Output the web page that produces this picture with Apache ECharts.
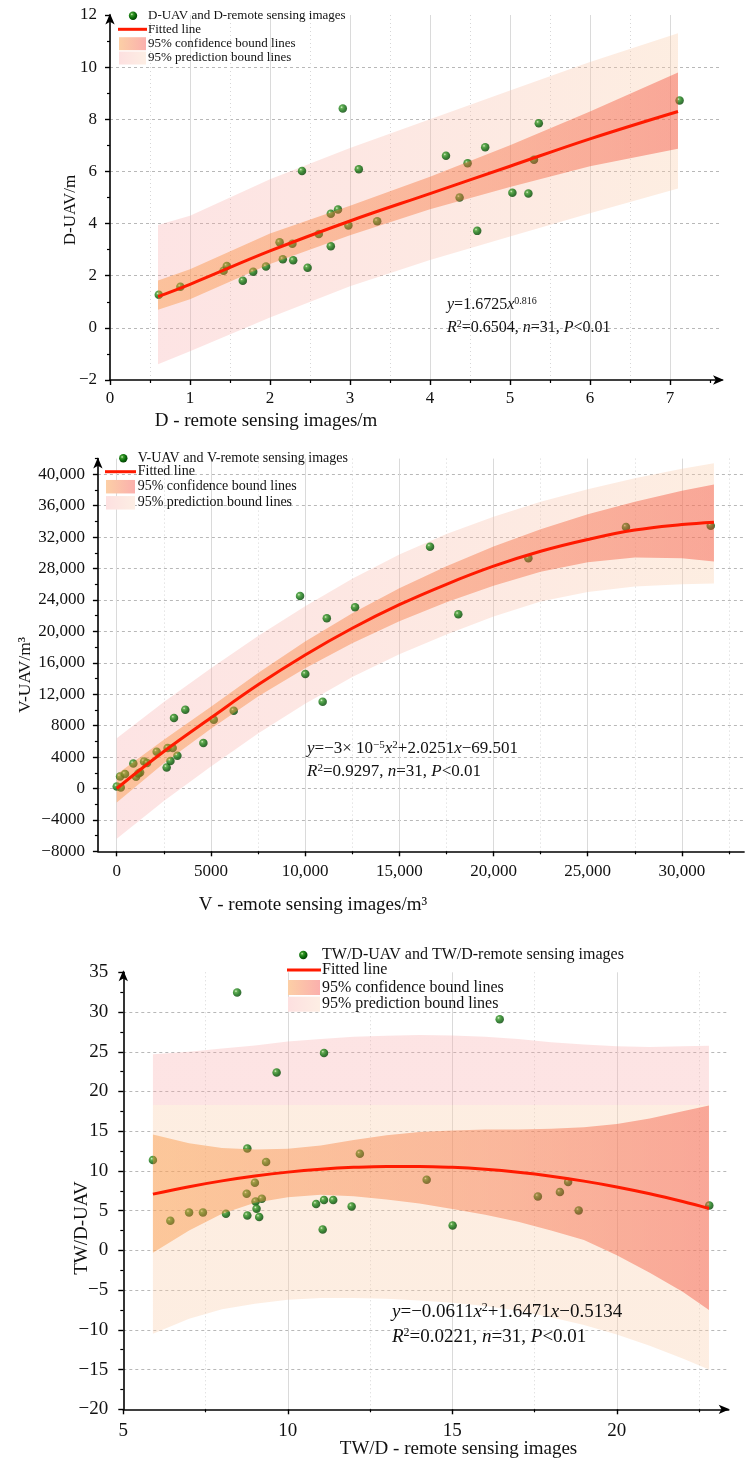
<!DOCTYPE html>
<html>
<head>
<meta charset="utf-8">
<title>UAV vs remote sensing</title>
<style>
  html, body { margin: 0; padding: 0; background: #fff; }
  #chart { width: 745px; height: 1463px; }
</style>
<script src="https://cdn.jsdelivr.net/npm/echarts@6.0.0/dist/echarts.min.js"></script>
</head>
<body>
<div id="chart"></div>
<script>
// ---------- panel 1: D ----------
const dRsX = [0.61, 0.88, 1.42, 1.46, 1.66, 1.79, 1.95, 2.12, 2.16, 2.28, 2.29, 2.47, 2.61, 2.76, 2.76, 2.85,
  2.98, 3.34, 2.40, 2.91, 3.11, 4.20, 4.47, 4.69, 5.36, 5.30, 7.12, 4.37, 5.03, 5.23, 4.59];
const dUavY = [1.27, 1.58, 2.19, 2.37, 1.81, 2.15, 2.35, 3.28, 2.63, 3.23, 2.59, 2.31, 3.60, 3.13, 4.38, 4.54,
  3.93, 4.09, 6.02, 8.41, 6.08, 6.60, 6.31, 6.93, 7.85, 6.45, 8.72, 5.00, 5.18, 5.15, 3.72];
const dCurveX = [0.6, 1, 2, 3, 4, 5, 6, 7.1];
const dFit = [1.2, 1.67, 2.95, 4.1, 5.15, 6.2, 7.25, 8.3];
const dConfHi = [1.82, 2.25, 3.62, 4.68, 5.8, 7.0, 8.3, 9.79];
const dConfLo = [0.69, 1.1, 2.45, 3.55, 4.55, 5.4, 6.2, 6.87];
const dPredHi = [3.95, 4.3, 5.7, 6.9, 8.0, 9.1, 10.2, 11.3];
const dPredLo = [-1.4, -0.9, 0.4, 1.6, 2.6, 3.5, 4.4, 5.35];
const dXTicks = [0, 1, 2, 3, 4, 5, 6, 7];
const dXMinor = [0.5, 1.5, 2.5, 3.5, 4.5, 5.5, 6.5, 7.5];
const dYTicks = [-2, 0, 2, 4, 6, 8, 10, 12];
const dYMinor = [-1, 1, 3, 5, 7, 9, 11];

// ---------- panel 2: V ----------
const vRsX = [0, 212, 175, 440, 880, 1025, 1240, 1450, 1610, 2120, 2650, 2700, 2850, 2970, 3040, 3220,
  3640, 4600, 5150, 6210, 10010, 10930, 9730, 11150, 12650, 16630, 18130, 21850, 27030, 31530, 1150];
const vUavY = [255, 127, 1530, 1830, 3180, 1490, 2040, 3440, 3230, 4680, 2680, 5140, 3490, 5140, 8970, 4170,
  10030, 5780, 8750, 9900, 14570, 11050, 24500, 21660, 23060, 30790, 22170, 29300, 33300, 33460, 1900];
const vCurveX = [0, 2500, 5000, 7500, 10000, 12500, 15000, 17500, 20000, 22500, 25000, 27500, 30000, 31700];
const vFit = [0, 4700, 9000, 13200, 17000, 20400, 23400, 26000, 28300, 30200, 31700, 32900, 33600, 33900];
const vConfHi = [1800, 6200, 10400, 14700, 18700, 22300, 25500, 28300, 30800, 33000, 34900, 36500, 37900, 38700];
const vConfLo = [-1800, 3200, 7600, 11700, 15300, 18500, 21300, 23700, 25800, 27600, 28800, 29400, 29300, 28900];
const vPredHi = [6400, 11000, 15300, 19400, 23200, 26700, 29800, 32400, 34600, 36500, 38100, 39500, 40700, 41400];
const vPredLo = [-6400, -1600, 2800, 7000, 10800, 14200, 17100, 19600, 21900, 23800, 25000, 25700, 26000, 26100];
const vXTicks = [0, 5000, 10000, 15000, 20000, 25000, 30000];
const vXMinor = [2500, 7500, 12500, 17500, 22500, 27500, 32500];
const vYTicks = [-8000, -4000, 0, 4000, 8000, 12000, 16000, 20000, 24000, 28000, 32000, 36000, 40000];
const vYMinor = [-6000, -2000, 2000, 6000, 10000, 14000, 18000, 22000, 26000, 30000, 34000, 38000, 42000];

// ---------- panel 3: TW/D ----------
const tRsX = [5.90, 8.46, 8.77, 9.34, 9.00, 8.75, 9.02, 9.21, 9.66, 11.10, 10.86, 11.10, 11.38, 11.94, 12.19, 9.05,
  9.13, 8.77, 8.12, 7.42, 7.00, 6.43, 11.06, 16.44, 14.22, 17.60, 18.27, 18.52, 18.84, 22.81, 15.01];
const tUavY = [11.37, 32.45, 12.83, 11.12, 8.52, 7.13, 6.16, 6.50, 22.39, 24.83, 5.84, 6.34, 6.34, 5.53, 12.16, 5.24,
  4.20, 4.40, 4.62, 4.78, 4.78, 3.73, 2.64, 29.10, 8.89, 6.79, 7.34, 8.60, 5.03, 5.66, 3.14];
const tCurveX = [5.9, 7, 8, 9, 10, 11, 12, 13, 14, 15, 16, 17, 18, 19, 20, 21, 22, 22.8];
const tFit = [7.08, 8.02, 8.75, 9.36, 9.85, 10.21, 10.45, 10.57, 10.57, 10.45, 10.2, 9.83, 9.34, 8.72, 7.99, 7.13, 6.15, 5.28];
const tConfHi = [14.6, 13.5, 12.9, 12.7, 12.8, 13.2, 13.9, 14.5, 14.9, 15.1, 15.2, 15.2, 15.3, 15.5, 15.9, 16.6, 17.5, 18.24];
const tConfLo = [-0.3, 2.5, 4.6, 6.0, 6.7, 7.0, 6.8, 6.4, 5.9, 5.2, 4.5, 3.6, 2.5, 1.3, -0.6, -2.8, -5.2, -7.5];
const tPredHi = [24.7, 25.0, 25.4, 25.8, 26.3, 26.6, 26.9, 27.0, 27.1, 27.05, 26.9, 26.6, 26.2, 25.9, 25.7, 25.6, 25.7, 25.75];
const tPredLo = [-10.5, -8.6, -7.4, -6.7, -6.2, -6.0, -6.0, -6.1, -6.3, -6.6, -7.0, -7.6, -8.4, -9.4, -10.6, -12.0, -13.6, -15.0];
const tXTicks = [5, 10, 15, 20];
const tXMinor = [7.5, 12.5, 17.5, 22.5];
const tYTicks = [-20, -15, -10, -5, 0, 5, 10, 15, 20, 25, 30, 35];
const tYMinor = [-17.5, -12.5, -7.5, -2.5, 2.5, 7.5, 12.5, 17.5, 22.5, 27.5, 32.5];

const FONT = '"Liberation Serif", "Times New Roman", serif';
const chart = echarts.init(document.getElementById('chart'));

const fmtNum = v => {
  const a = Math.abs(v);
  const s = a >= 10000 ? a.toLocaleString('en-US') : String(a);
  return (v < 0 ? '\u2212' : '') + s;
};

const xAxes = [];
const yAxes = [];

const hDash = { color: '#b8b8b8', width: 1, type: [3, 3] };
const vSolid = { color: '#dadada', width: 1 };
const vDot = { color: '#d6d6d6', width: 1, type: [1, 3] };

// main axis (ticks + labels), minor-tick axis, then one hidden axis per grid-line style
function axisSet(list, dim, grid, o) {
  const base = { type: 'value', gridIndex: grid, min: o.min, max: o.max, position: dim === 'x' ? 'bottom' : 'left' };
  const main = list.length;
  list.push(Object.assign({}, base, {
    axisLine: {
      show: true, onZero: false,
      symbol: o.arrow != null ? ['none', 'arrow'] : 'none',
      symbolSize: [7, 11], symbolOffset: [0, o.arrow || 0],
      lineStyle: { color: '#000', width: 1.6 }
    },
    axisTick: { show: true, length: 5, customValues: o.major, lineStyle: { color: '#000', width: 1.4 } },
    axisLabel: { customValues: o.major, formatter: fmtNum, fontFamily: FONT, fontSize: o.fs, color: '#111', margin: o.margin },
    splitLine: { show: false }
  }));
  list.push(Object.assign({}, base, {
    axisLine: { show: false, onZero: false },
    axisTick: { show: true, length: 3, customValues: o.minor, lineStyle: { color: '#000', width: 1.2 } },
    axisLabel: { show: false },
    splitLine: { show: false }
  }));
  o.lines.forEach(g => list.push(Object.assign({}, base, {
    axisLine: { show: false, onZero: false },
    axisTick: { show: false, customValues: g.values },
    axisLabel: { show: false },
    splitLine: { show: true, lineStyle: g.style }
  })));
  return main;
}

const grids = [
  { left: 110, top: 15, width: 612, height: 365 },
  { left: 97.9, top: 458.6, width: 646.2, height: 392.7 },
  { left: 123.3, top: 972.3, width: 605.4, height: 437 }
];

const p1 = {
  xi: axisSet(xAxes, 'x', 0, { min: 0, max: 7.65, major: dXTicks, minor: dXMinor, fs: 17, margin: 10, arrow: 2,
    lines: [{ values: [1, 2, 3, 4, 5, 6, 7], style: vSolid }, { values: [0.5, 1.5, 2.5, 3.5, 4.5, 5.5, 6.5], style: vDot }] }),
  yi: axisSet(yAxes, 'y', 0, { min: -2, max: 12, major: dYTicks, minor: dYMinor, fs: 17, margin: 13, arrow: 1.5,
    lines: [{ values: [0, 2, 4, 6, 8, 10], style: hDash }] })
};
const p2 = {
  xi: axisSet(xAxes, 'x', 1, { min: -1000, max: 33300, major: vXTicks, minor: vXMinor, fs: 17, margin: 12,
    lines: [{ values: [0, 5000, 10000, 15000, 20000, 25000, 30000], style: vSolid }, { values: vXMinor, style: vDot }] }),
  yi: axisSet(yAxes, 'y', 1, { min: -8000, max: 42000, major: vYTicks, minor: vYMinor, fs: 17, margin: 13, arrow: 1,
    lines: [{ values: [-4000, 0, 4000, 8000, 12000, 16000, 20000, 24000, 28000, 32000, 36000, 40000], style: hDash }] })
};
const p3 = {
  xi: axisSet(xAxes, 'x', 2, { min: 5, max: 23.4, major: tXTicks, minor: tXMinor, fs: 19, margin: 12, arrow: 1,
    lines: [{ values: [10, 15, 20], style: vSolid }, { values: tXMinor, style: vDot }] }),
  yi: axisSet(yAxes, 'y', 2, { min: -20, max: 35, major: tYTicks, minor: tYMinor, fs: 19, margin: 15, arrow: 2,
    lines: [{ values: [-15, -10, -5, 0, 5, 10, 15, 20, 25, 30], style: hDash }] })
};

const lin = (x2, y2, stops) => ({ type: 'linear', x: 0, y: 0, x2, y2, colorStops: stops.map(s => ({ offset: s[0], color: s[1] })) });
const predFillH = lin(1, 0, [[0, 'rgba(248,165,165,0.30)'], [1, 'rgba(250,205,170,0.35)']]);
const predFillV = lin(0, 1, [[0, 'rgba(248,165,165,0.30)'], [0.21, 'rgba(248,165,165,0.30)'], [0.21, 'rgba(250,205,170,0.35)'], [1, 'rgba(250,205,170,0.35)']]);
const confFill = lin(1, 0, [[0, 'rgba(250,146,56,0.42)'], [0.6, 'rgba(246,110,60,0.42)'], [1, 'rgba(243,70,50,0.42)']]);
const sphere = { type: 'radial', x: 0.36, y: 0.34, r: 0.7,
  colorStops: [{ offset: 0, color: '#d9f3c9' }, { offset: 0.22, color: '#3d9c2c' }, { offset: 0.6, color: '#0b6d0b' }, { offset: 1, color: '#023f02' }] };

function band(p, xs, lo, hi, fill, z) {
  return {
    type: 'custom', xAxisIndex: p.xi, yAxisIndex: p.yi, z, silent: true, clip: true,
    data: [0],
    renderItem: (params, api) => {
      const pts = xs.map((x, i) => api.coord([x, hi[i]]));
      for (let i = xs.length - 1; i >= 0; i--) pts.push(api.coord([xs[i], lo[i]]));
      return { type: 'polygon', shape: { points: pts }, style: { fill } };
    }
  };
}

function panelSeries(p, xs, ys, cx, fit, cLo, cHi, pLo, pHi, predFill) {
  return [
    band(p, cx, pLo, pHi, predFill, 1),
    { type: 'scatter', xAxisIndex: p.xi, yAxisIndex: p.yi, z: 2, silent: true, symbolSize: 8.5,
      data: xs.map((x, i) => [x, ys[i]]), itemStyle: { color: sphere } },
    band(p, cx, cLo, cHi, confFill, 3),
    { type: 'line', xAxisIndex: p.xi, yAxisIndex: p.yi, z: 4, silent: true, smooth: 0.4, showSymbol: false,
      data: cx.map((x, i) => [x, fit[i]]), lineStyle: { color: '#ff1a00', width: 3 } }
  ];
}

// ---------- text / legend graphics ----------
const txt = (text, x, y, fs, extra) => ({
  type: 'text', silent: true, x, y, z: 10,
  style: Object.assign({ text, font: fs + 'px ' + FONT, fill: '#111', textVerticalAlign: 'middle' }, extra || {})
});
const richEq = fs => ({
  i: { fontStyle: 'italic', fontFamily: FONT, fontSize: fs },
  sup: { fontFamily: FONT, fontSize: Math.round(fs * 0.62), verticalAlign: 'top' }
});
const eq = (text, x, y, fs) => txt(text, x, y, fs, { rich: richEq(fs), lineHeight: fs + 2 });

function legend(l) {
  const confBox = lin(1, 0, [[0, '#fccfa6'], [1, '#fbb0ad']]);
  const predBox = lin(1, 0, [[0, '#fde0e0'], [1, '#fdeee4']]);
  return [
    { type: 'circle', silent: true, z: 10, shape: { cx: l.sx, cy: l.rows[0], r: 4.2 }, style: { fill: sphere } },
    { type: 'line', silent: true, z: 10, shape: { x1: l.bx0, y1: l.rows[1], x2: l.bx1, y2: l.rows[1] }, style: { stroke: '#ff1a00', lineWidth: 3 } },
    { type: 'rect', silent: true, z: 10, shape: { x: l.bx0 + 1, y: l.rows[2] - l.bh / 2, width: l.bx1 - l.bx0 - 2, height: l.bh }, style: { fill: confBox } },
    { type: 'rect', silent: true, z: 10, shape: { x: l.bx0 + 1, y: l.rows[3] - l.bh / 2, width: l.bx1 - l.bx0 - 2, height: l.bh }, style: { fill: predBox } },
    txt(l.label, l.tx, l.rows[0], l.fs),
    txt('Fitted line', l.tx, l.rows[1], l.fs),
    txt('95% confidence bound lines', l.tx, l.rows[2], l.fs),
    txt('95% prediction bound lines', l.tx, l.rows[3], l.fs)
  ];
}

const graphics = [].concat(
  legend({ label: 'D-UAV and D-remote sensing images', sx: 133, tx: 148, bx0: 118, bx1: 147, bh: 13, fs: 13, rows: [15.7, 29.3, 43.7, 58] }),
  legend({ label: 'V-UAV and V-remote sensing images', sx: 123.3, tx: 137.7, bx0: 105, bx1: 136, bh: 13.5, fs: 14, rows: [458.3, 471.7, 486.7, 502.8] }),
  legend({ label: 'TW/D-UAV and TW/D-remote sensing images', sx: 303.3, tx: 322, bx0: 287, bx1: 321, bh: 15, fs: 16, rows: [955, 970, 987.5, 1004.2] }),
  [
    eq('{i|y}=1.6725{i|x}{sup|0.816}', 447, 305, 16),
    eq('{i|R}{sup|2}=0.6504, {i|n}=31, {i|P}<0.01', 447, 328, 16),
    eq('{i|y}=\u22123\u00d7 10{sup|\u22125}{i|x}{sup|2}+2.0251{i|x}\u221269.501', 307, 749, 17),
    eq('{i|R}{sup|2}=0.9297, {i|n}=31, {i|P}<0.01', 307, 772, 17),
    eq('{i|y}=\u22120.0611{i|x}{sup|2}+1.6471{i|x}\u22120.5134', 392, 1312, 19),
    eq('{i|R}{sup|2}=0.0221, {i|n}=31, {i|P}<0.01', 392, 1337, 19),
    txt('D - remote sensing images/m', 266, 421, 19, { textAlign: 'center' }),
    txt('V - remote sensing images/m\u00b3', 313, 905, 19, { textAlign: 'center' }),
    txt('TW/D - remote sensing images', 458.5, 1449, 19, { textAlign: 'center' }),
    Object.assign(txt('D-UAV/m', 71, 210, 17, { textAlign: 'center' }), { rotation: Math.PI / 2 }),
    Object.assign(txt('V-UAV/m\u00b3', 25.5, 675, 17.5, { textAlign: 'center' }), { rotation: Math.PI / 2 }),
    Object.assign(txt('TW/D-UAV', 81.7, 1228, 19, { textAlign: 'center' }), { rotation: Math.PI / 2 })
  ]
);

chart.setOption({
  animation: false,
  backgroundColor: '#fff',
  grid: grids,
  xAxis: xAxes,
  yAxis: yAxes,
  series: [].concat(
    panelSeries(p1, dRsX, dUavY, dCurveX, dFit, dConfLo, dConfHi, dPredLo, dPredHi, predFillH),
    panelSeries(p2, vRsX, vUavY, vCurveX, vFit, vConfLo, vConfHi, vPredLo, vPredHi, predFillH),
    panelSeries(p3, tRsX, tUavY, tCurveX, tFit, tConfLo, tConfHi, tPredLo, tPredHi, predFillV)
  ),
  graphic: graphics
});
</script>
</body>
</html>
